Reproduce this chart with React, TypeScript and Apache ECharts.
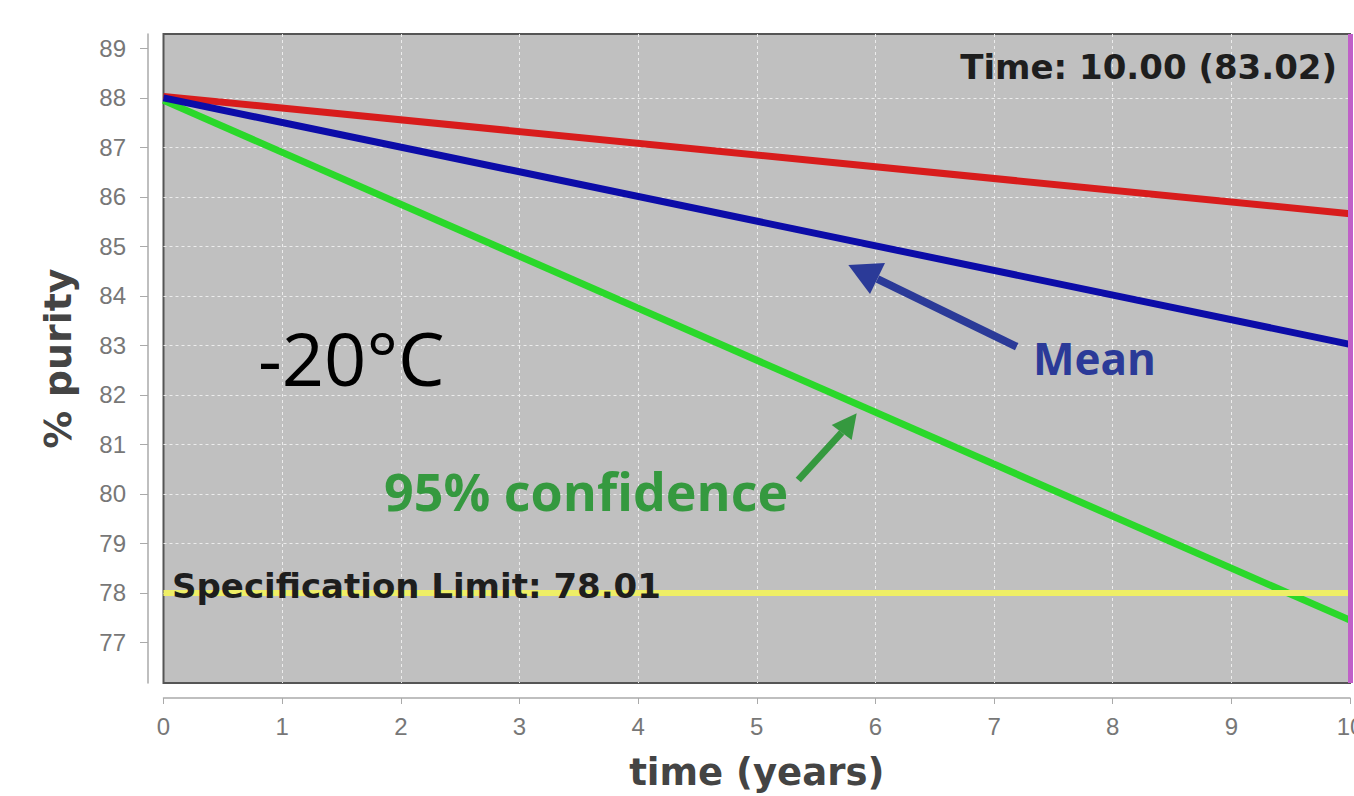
import React, { useEffect, useRef } from "react";
import * as echarts from "echarts";

// ---- data ----
const years = [0, 10];
const upperBound = [88.03, 85.66]; // red
const meanPurity = [88.0, 83.02]; // blue
const lowerBound95 = [87.95, 77.45]; // green
const specLimit = 78.01;
const cursorTime = 10;
const cursorValue = 83.02;
const xTickValues = [0, 1, 2, 3, 4, 5, 6, 7, 8, 9, 10];
const yTickValues = [77, 78, 79, 80, 81, 82, 83, 84, 85, 86, 87, 88, 89];
const yMin = 76.18;
const yMax = 89.29;
const xMin = 0;
const xMax = 10;

const toPairs = (ys: number[]) => years.map((x, i) => [x, ys[i]]);

export default function App() {
  const ref = useRef<HTMLDivElement>(null);
  useEffect(() => {
    const chart = echarts.init(ref.current!, null, { renderer: "svg" });
    const tickFont = "'Liberation Sans', Arial, sans-serif";
    const axisFont = "'DejaVu Sans', Verdana, sans-serif";
    const pptFont = "'Open Sans', 'Noto Sans', sans-serif";
    const gridLine = {
      show: true,
      showMinLine: false,
      showMaxLine: false,
      lineStyle: { color: "#ececec", width: 1, type: [3, 3] as any },
    };
    chart.setOption({
      animation: false,
      backgroundColor: "#ffffff",
      grid: {
        left: 163.5,
        right: 4,
        top: 34,
        bottom: 113,
        containLabel: false,
        outerBoundsMode: "none",
        show: true,
        backgroundColor: "#c0c0c0",
        borderColor: "#555555",
        borderWidth: 2,
      },
      xAxis: {
        type: "value",
        min: xMin,
        max: xMax,
        interval: 1,
        offset: 15,
        axisLine: { show: true, onZero: false, lineStyle: { color: "#aaaaaa", width: 1.5 } },
        axisTick: { show: true, length: 6, lineStyle: { color: "#aaaaaa" }, customValues: xTickValues },
        axisLabel: { color: "#777777", fontSize: 24, fontFamily: tickFont, margin: 16, customValues: xTickValues },
        splitLine: gridLine,
        name: "time (years)",
        nameLocation: "middle",
        nameGap: 56,
        nameTextStyle: { color: "#444444", fontSize: 37, fontWeight: "bold", fontFamily: axisFont },
      },
      yAxis: {
        type: "value",
        min: yMin,
        max: yMax,
        minInterval: 1,
        maxInterval: 1,
        offset: 15.5,
        axisLine: { show: true, onZero: false, lineStyle: { color: "#aaaaaa", width: 1.5 } },
        axisTick: { show: true, length: 8, lineStyle: { color: "#aaaaaa" }, customValues: yTickValues },
        axisLabel: { color: "#777777", fontSize: 24, fontFamily: tickFont, margin: 22, customValues: yTickValues },
        splitLine: gridLine,
        name: "% purity",
        nameLocation: "middle",
        nameRotate: 90,
        nameGap: 71,
        nameTextStyle: { color: "#444444", fontSize: 38, fontWeight: "bold", fontFamily: axisFont },
      },
      series: [
        {
          type: "line",
          name: "spec",
          data: [],
          z: 1,
          markLine: {
            silent: true,
            symbol: ["none", "none"],
            label: { show: false },
            lineStyle: { color: "#eeee66", width: 6, type: "solid" },
            data: [{ yAxis: specLimit }],
          },
        },
        {
          type: "line",
          name: "upper",
          data: toPairs(upperBound),
          showSymbol: false,
          z: 2,
          lineStyle: { color: "#d81c1c", width: 7 },
        },
        {
          type: "line",
          name: "lower95",
          data: toPairs(lowerBound95),
          showSymbol: false,
          z: 3,
          lineStyle: { color: "#2ad82a", width: 7 },
        },
        {
          type: "line",
          name: "mean",
          data: toPairs(meanPurity),
          showSymbol: false,
          z: 4,
          lineStyle: { color: "#0c0ca8", width: 7 },
          markLine: {
            silent: true,
            symbol: ["none", "none"],
            label: { show: false },
            lineStyle: { color: "#c060c8", width: 5, type: "solid" },
            data: [{ xAxis: cursorTime }],
          },
        },
      ],
      graphic: [
        {
          type: "text",
          right: 17,
          top: 50,
          z: 100,
          style: {
            text: `Time: ${cursorTime.toFixed(2)} (${cursorValue.toFixed(2)})`,
            fill: "#1e1e1e",
            font: `bold 34px ${axisFont}`,
          },
        },
        {
          type: "text",
          x: 172,
          y: 585.5,
          z: 100,
          style: {
            text: `Specification Limit: ${specLimit.toFixed(2)}`,
            fill: "#1e1e1e",
            font: `bold 34px ${axisFont}`,
            verticalAlign: "middle",
          },
        },
        {
          type: "text",
          x: 258,
          y: 357,
          z: 100,
          style: { text: "-20°C", fill: "#000000", font: `74px ${pptFont}`, verticalAlign: "middle" },
        },
        {
          type: "text",
          x: 1033,
          y: 358,
          z: 100,
          style: { text: "Mean", fill: "#2b3a98", font: `bold 44px ${pptFont}`, verticalAlign: "middle" },
        },
        {
          type: "text",
          x: 384,
          y: 490,
          z: 100,
          style: { text: "95% confidence", fill: "#35993f", font: `bold 52px ${pptFont}`, verticalAlign: "middle" },
        },
        {
          type: "line",
          z: 100,
          shape: { x1: 1016.7, y1: 346.7, x2: 877.5, y2: 279 },
          style: { stroke: "#2b3a98", lineWidth: 8 },
        },
        {
          type: "polygon",
          z: 100,
          shape: { points: [[848.3, 265], [885, 263], [870, 294]] },
          style: { fill: "#2b3a98" },
        },
        {
          type: "line",
          z: 100,
          shape: { x1: 798.3, y1: 480, x2: 841.7, y2: 432.5 },
          style: { stroke: "#35993f", lineWidth: 7 },
        },
        {
          type: "polygon",
          z: 100,
          shape: { points: [[856.7, 413.3], [831.7, 425], [851.7, 440]] },
          style: { fill: "#35993f" },
        },
      ],
    });
    return () => chart.dispose();
  }, []);
  return <div ref={ref} style={{ position: "absolute", left: 0, top: 0, width: 1354, height: 796 }} />;
}
